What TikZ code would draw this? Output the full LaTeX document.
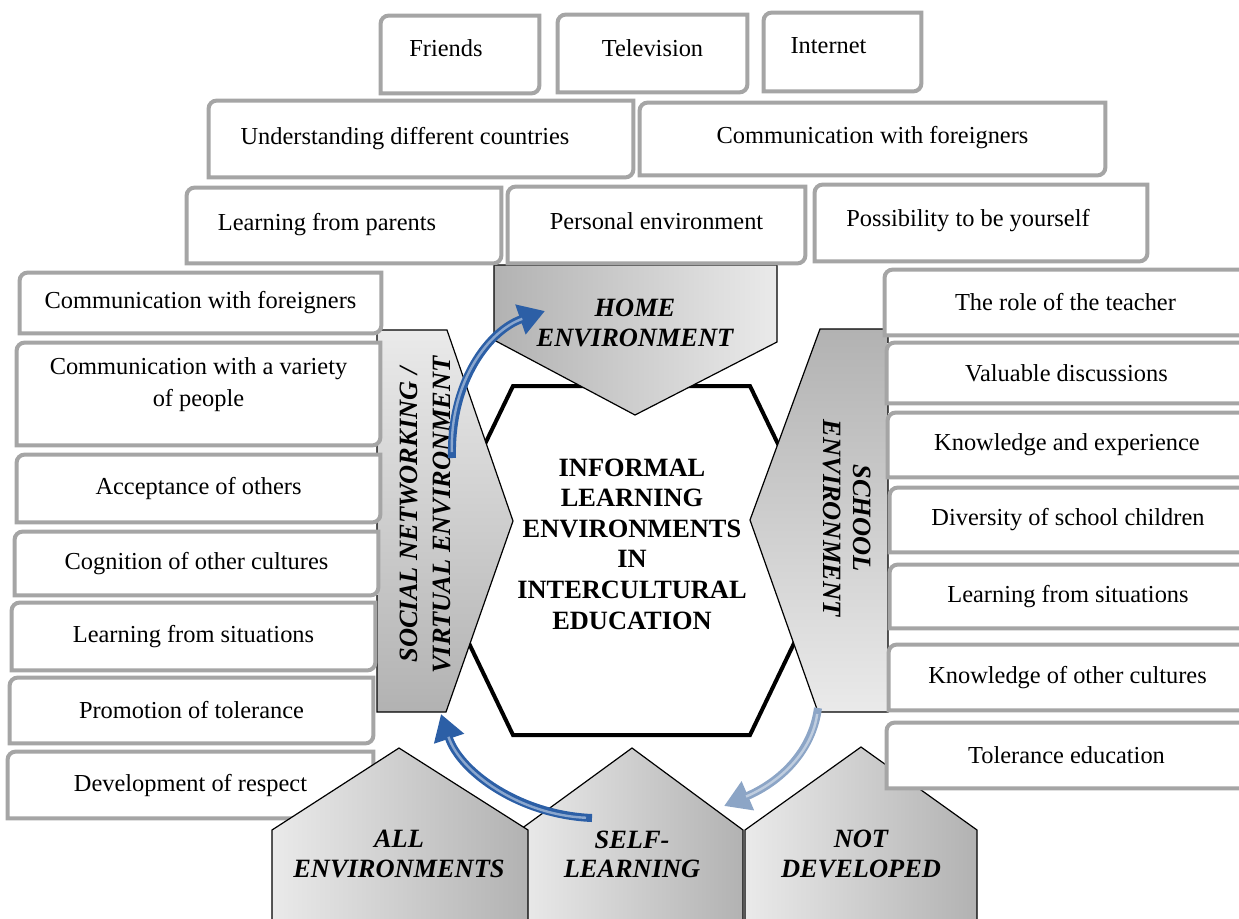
\documentclass[tikz,border=0pt]{standalone}
\usepackage{fontspec}
\setmainfont{Liberation Serif}
\usetikzlibrary{arrows.meta}

\definecolor{boxgray}{HTML}{A5A5A5}
\definecolor{shapedark}{HTML}{B2B2B2}
\definecolor{shapelight}{HTML}{EAEAEA}
\definecolor{arrowblue}{HTML}{2C5FA6}
\definecolor{arrowpale}{HTML}{8CA5C6}

\tikzset{
  item/.style={fill=white, inner sep=0pt, align=center, font=\fontsize{12.2}{16}\selectfont},
  itemat/.style n args={4}{at={({(#1+#3)/2},{(#2+#4)/2})},
    minimum width={(#3-#1)*0.5pt}, minimum height={(#4-#2)*0.5pt}},
  itemline/.style={draw=boxgray, line width=2pt},
  envtext/.style={align=center, font=\fontsize{13.2}{14.6}\selectfont\bfseries\itshape},
  envshape/.style={draw=black, line width=0.6pt},
  flow/.style={line width=4pt, -{Triangle[length=13pt,width=15pt]},
    postaction={draw=white, draw opacity=0.45, line width=1.2pt, -, shorten >=12pt, shorten <=3pt}},
}

\begin{document}
\begin{tikzpicture}[x=0.5pt,y=-0.5pt]
\useasboundingbox (0,0) rectangle (1239,918);

% centre
\filldraw[fill=white, line width=2pt] (513,386) -- (750,386) -- (834,560) -- (750,735) -- (513,735) -- (429,560) -- cycle;
\node[align=center, font=\fontsize{13.2}{15.3}\selectfont\bfseries] (centre) at (632,544)
  {INFORMAL\\LEARNING\\ENVIRONMENTS\\IN\\INTERCULTURAL\\EDUCATION};

% environments round the centre
\shadedraw[envshape, left color=shapedark, right color=shapelight] (494,265) -- (777,265) -- (777,342) -- (635,415) -- (494,340) -- cycle;
\node[envtext] (home) at (635,323) {HOME\\ENVIRONMENT};

\shadedraw[envshape, top color=shapelight, bottom color=shapedark] (377,330) -- (447,330) -- (513,521) -- (446,712) -- (377,712) -- cycle;
\node[envtext, rotate=90, font=\fontsize{13.2}{16.5}\selectfont\bfseries\itshape] (social) at (425,515) {SOCIAL NETWORKING /\\VIRTUAL ENVIRONMENT};

\shadedraw[envshape, top color=shapedark, bottom color=shapelight] (820,329) -- (888,329) -- (888,712) -- (818,712) -- (750,520) -- cycle;
\node[envtext, rotate=-90] (school) at (847,518) {SCHOOL\\ENVIRONMENT};

\shadedraw[envshape, left color=shapelight, right color=shapedark] (745,930) -- (745,830) -- (861,747) -- (977,830) -- (977,930) -- cycle;
\node[envtext] (notdev) at (861,854) {NOT\\DEVELOPED};

\shadedraw[envshape, left color=shapelight, right color=shapedark] (521,930) -- (521,829) -- (632,748) -- (743,830) -- (743,930) -- cycle;
\node[envtext] (selflearn) at (632,854) {SELF-\\LEARNING};

% home items
\node[item, itemat={381}{16}{539}{93}, text depth=6pt] (friends) {Friends\hspace*{14pt}};
\node[item, itemat={558}{15}{747}{92}, text depth=5.5pt] (tv) {Television};
\node[item, itemat={764}{13}{921}{91}, text depth=6pt] (internet) {Internet\hspace*{14pt}};
\node[item, itemat={209}{101}{633}{177}] (countries) {Understanding different countries\hspace*{16pt}};
\node[item, itemat={640}{103}{1105}{175}, text depth=4pt] (tcomm) {Communication with foreigners};
\node[item, itemat={187}{188}{501}{263}, text depth=4pt] (parents) {Learning from parents\hspace*{17pt}};
\node[item, itemat={508}{187}{805}{263}, text depth=4pt] (personal) {Personal environment};
\node[item, itemat={815}{185}{1147}{261}, text depth=5pt] (yourself) {Possibility to be yourself\hspace*{13pt}};

% social networking items
\node[item, itemat={20}{273}{381}{333}] (lcomm) {Communication with foreigners};
\node[item, itemat={17}{343}{380}{445}, text depth=12pt] (lvariety) {Communication with a variety\\of people};
\node[item, itemat={17}{455}{380}{522}] (accept) {Acceptance of others};
\node[item, itemat={15}{532}{378}{595}] (cognition) {Cognition of other cultures};
\node[item, itemat={12}{603}{375}{670}] (lsituations) {Learning from situations};
\node[item, itemat={10}{678}{373}{743}] (tolerance) {Promotion of tolerance};
\node[item, itemat={8}{752}{373}{818}] (respect) {Development of respect};

% school items
\node[item, itemat={885}{270}{1246}{335}] (teacher) {The role of the teacher};
\node[item, itemat={887}{343}{1246}{403}] (discussions) {Valuable discussions};
\node[item, itemat={888}{413}{1246}{477}] (experience) {Knowledge and experience};
\node[item, itemat={890}{488}{1246}{552}] (diversity) {Diversity of school children};
\node[item, itemat={890}{565}{1246}{628}] (rsituations) {Learning from situations};
\node[item, itemat={889}{645}{1246}{710}] (cultures) {Knowledge of other cultures};
\node[item, itemat={887}{723}{1246}{788}] (toleduc) {Tolerance education};

\foreach \n in {friends,tv,internet,countries,tcomm,parents,personal,yourself,
    lcomm,lvariety,accept,cognition,lsituations,tolerance,respect,
    teacher,discussions,experience,diversity,rsituations,cultures,toleduc}
  \draw[itemline] (\n.south west) -- ([yshift=-4pt]\n.north west)
    arc[start angle=180, end angle=90, radius=4pt] -- (\n.north east)
    -- ([yshift=4pt]\n.south east) arc[start angle=0, end angle=-90, radius=4pt] -- cycle;

\shadedraw[envshape, left color=shapelight, right color=shapedark] (272,930) -- (272,830) -- (399,748) -- (528,830) -- (528,930) -- cycle;
\node[envtext] (allenv) at (399,854) {ALL\\ENVIRONMENTS};

% arrows
\coordinate (socialout) at (452,458);
\coordinate (homein) at (545,311);
\coordinate (schoolout) at (818,708);
\coordinate (selfin) at (724,806);
\coordinate (selfout) at (592,818);
\coordinate (socialin) at (441,714);

\draw[flow, arrowblue] (socialout) .. controls (450,380) and (490,330) .. (homein);
\draw[flow, arrowpale] (schoolout) .. controls (812,752) and (780,782) .. (selfin);
\draw[flow, arrowblue] (selfout) .. controls (520,815) and (460,772) .. (socialin);
\end{tikzpicture}
\end{document}
